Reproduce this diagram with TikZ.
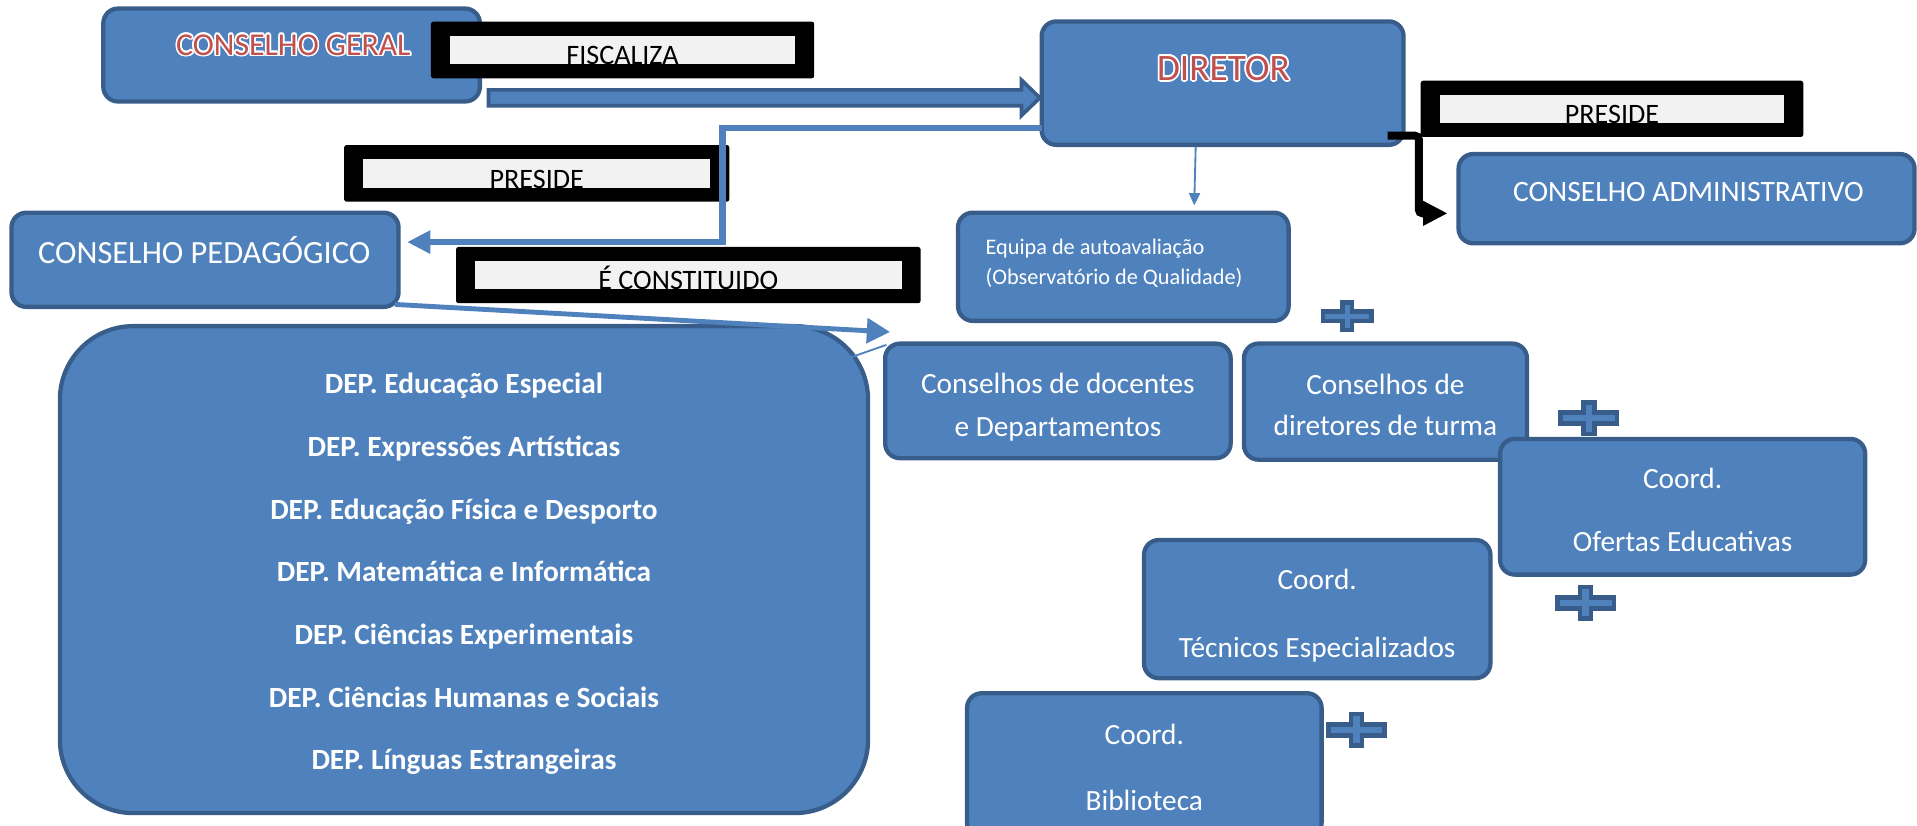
\documentclass[tikz,border=0pt]{standalone}
\usepackage{fontspec}
\setmainfont{Carlito}
\usepackage{tikz}
\usetikzlibrary{arrows.meta,calc}

\definecolor{azul}{HTML}{4F81BD}
\definecolor{azulesc}{HTML}{385D8A}
\definecolor{vermelho}{HTML}{C0504D}
\definecolor{cinza}{HTML}{F2F2F2}

\begin{document}
\begin{tikzpicture}[x=1pt, y=-1pt,
      caixa/.style={draw=azulesc, fill=azul, line width=3.5pt, rounded corners=12pt,
        text=white, align=center, inner sep=0pt, outer sep=0pt,
        font=\fontsize{24}{34.6}\selectfont},
      texto/.style={text=white, anchor=base, inner sep=0pt, font=\fontsize{23}{28}\selectfont},
      titulo/.style={text=vermelho, anchor=base, inner sep=0pt, font=\fontsize{#1}{#1}\selectfont},
      etiq/.style={anchor=base, inner sep=0pt, font=\fontsize{23}{28}\selectfont},
      liga/.style={draw=azul, line width=5pt},
      seta/.style={draw=azulesc, fill=azul, line width=3pt},
      mais/.style={draw=azulesc, fill=azul, line width=3.75pt}]
    \useasboundingbox (0,0) rectangle (1568,675.6);

    % caixas
    \node[caixa, minimum width=308pt, minimum height=76pt] (cg) at (238.5,45) {};
    \node[caixa, minimum width=296pt, minimum height=101pt] (dir) at (1000,68) {};
    \node[caixa, minimum width=373pt, minimum height=73pt] (ca) at (1379.5,162.5) {};
    \node[caixa, minimum width=316.6pt, minimum height=77pt] (cp) at (167.7,212.5) {};
    \node[caixa, minimum width=270.4pt, minimum height=88.5pt] (equipa) at (918.8,218.2) {};
    \node[caixa, rounded corners=60pt, minimum width=661pt, minimum height=398.3pt,
      font=\bfseries\fontsize{24}{51.3}\selectfont] (dep) at (379.5,465.9)
      {\rule{0pt}{24pt}DEP. Educação Especial\\DEP. Expressões Artísticas\\DEP. Educação Física e Desporto\\
       DEP. Matemática e Informática\\DEP. Ciências Experimentais\\
       DEP. Ciências Humanas e Sociais\\DEP. Línguas Estrangeiras};
    \node[caixa, minimum width=282.6pt, minimum height=93.7pt] (doc) at (865.3,327.9)
      {\rule{0pt}{27pt}Conselhos de docentes\\e Departamentos};
    \node[caixa, minimum width=231.5pt, minimum height=95pt,
      font=\fontsize{24}{33.8}\selectfont] (dt) at (1133.2,328.5)
      {\rule{0pt}{22pt}Conselhos de\\diretores de turma};
    \node[caixa, minimum width=298.6pt, minimum height=111pt,
      font=\fontsize{24}{52}\selectfont] (ofe) at (1376.3,414.5)
      {\rule{0pt}{22pt}Coord.\\Ofertas Educativas};
    \node[caixa, minimum width=283.3pt, minimum height=113pt,
      font=\fontsize{24}{56}\selectfont] (tec) at (1077.4,498.2)
      {\rule{0pt}{27pt}Coord.\\Técnicos Especializados};
    \node[caixa, minimum width=290pt, minimum height=118pt,
      font=\fontsize{24}{54}\selectfont] (bib) at (936,626)
      {\rule{0pt}{20pt}Coord.\\Biblioteca};

    % textos
    \foreach \a in {0,30,...,330} {
      \node[titulo=26, text=white] (cgh\a) at ($(240,45.2)+(\a:1.4)$) {CONSELHO GERAL};
      \node[titulo=30.5, text=white] (dirh\a) at ($(1000.7,65.8)+(\a:1.4)$) {DIRETOR};
    }
    \node[titulo=26] (cgt) at (240,45.2) {CONSELHO GERAL};
    \node[titulo=30.5] (dirt) at (1000.7,65.8) {DIRETOR};
    \node[texto, font=\fontsize{26.5}{30}\selectfont] (cpt) at (167,215.5) {CONSELHO PEDAGÓGICO};
    \node[texto, font=\fontsize{24.2}{28}\selectfont] (cat) at (1381,164.8) {CONSELHO ADMINISTRATIVO};
    \node[texto, anchor=base west, font=\fontsize{18.2}{20}\selectfont] (eq1) at (806,207.8)
      {Equipa de autoavaliação};
    \node[texto, anchor=base west, font=\fontsize{18.2}{20}\selectfont] (eq2) at (806,232.3)
      {(Observatório de Qualidade)};

    % seta larga
    \coordinate (f1) at ($(cg.south east)+(7,-3)$);
    \draw[seta] (f1) ++(0,-6.5) -- ++(436,0) -- ++(0,-8) -- ++(15,14.5)
      -- ++(-15,14.5) -- ++(0,-8) -- ++(-436,0) -- cycle;

    % etiquetas
    \foreach \nome/\xa/\ya/\xb/\yb/\txt in {fisc/352.5/17.7/666/64/FISCALIZA,
        presa/281.5/118.6/596.5/165/PRESIDE, presb/1162/66/1475/112/PRESIDE,
        const/373/202/753/248/É CONSTITUIDO} {
      \fill[rounded corners=2pt] (\xa,\ya) rectangle (\xb,\yb);
      \fill[cinza] (\xa+15.5,\ya+11.5) rectangle (\xb-15.5,\yb-11.5);
      \begin{scope}
        \clip (\xa+15.5,\ya+11.5) rectangle (\xb-15.5,\yb-11.5);
        \node[etiq] (\nome) at ({(\xa+\xb)/2},\yb-11) {\txt};
      \end{scope}
    }

    % ligacoes
    \coordinate (d1) at ($(dir.south west)+(0,-13.5)$);
    \coordinate (c2) at ($(cp.east)+(7,-14.5)$);
    \draw[liga, -{Triangle[length=19pt,width=18pt]}] (d1) -- ++(-261,0) |- (c2);
    \draw[liga, line width=4pt, -{Triangle[length=19pt,width=20pt]}]
      ($(cp.south east)+(-3,-2)$) -- ($(doc.north west)+(4,-9.5)$);
    \draw[azul, line width=1.5pt, -{Stealth[length=9pt,width=8pt]}]
      ($(doc.north west)+(1,1)$) -- ($(dep.north east)+(-47.5,37.3)$);
    \draw[azul, line width=1.5pt, -{Triangle[length=10pt,width=9pt]}]
      ($(dir.south)+(-22,1.5)$) -- ($(equipa.north)+(58,-6)$);
    \coordinate (p0) at ($(dir.south east)+(-13,-7.5)$);
    \coordinate (p2) at ($(ca.west)+(-9,12)$);
    \draw[black, line width=6.5pt, rounded corners=3pt, -{Triangle[length=20pt,width=19pt]}]
      (p0) -| ($(p2)+(-23.5,0)$) -- (p2);

    % sinais de mais
    \foreach \px/\py/\s in {1102/258.5/0.87, 1299.5/342/1, 1297/493/1, 1109.5/597/1}
      \draw[mais, shift={(\px,\py)}, scale=\s] (-23,-4.5) -- (-4.5,-4.5) -- (-4.5,-13)
        -- (4.5,-13) -- (4.5,-4.5) -- (23,-4.5) -- (23,4.5) -- (4.5,4.5) -- (4.5,13)
        -- (-4.5,13) -- (-4.5,4.5) -- (-23,4.5) -- cycle;
\end{tikzpicture}
\end{document}
